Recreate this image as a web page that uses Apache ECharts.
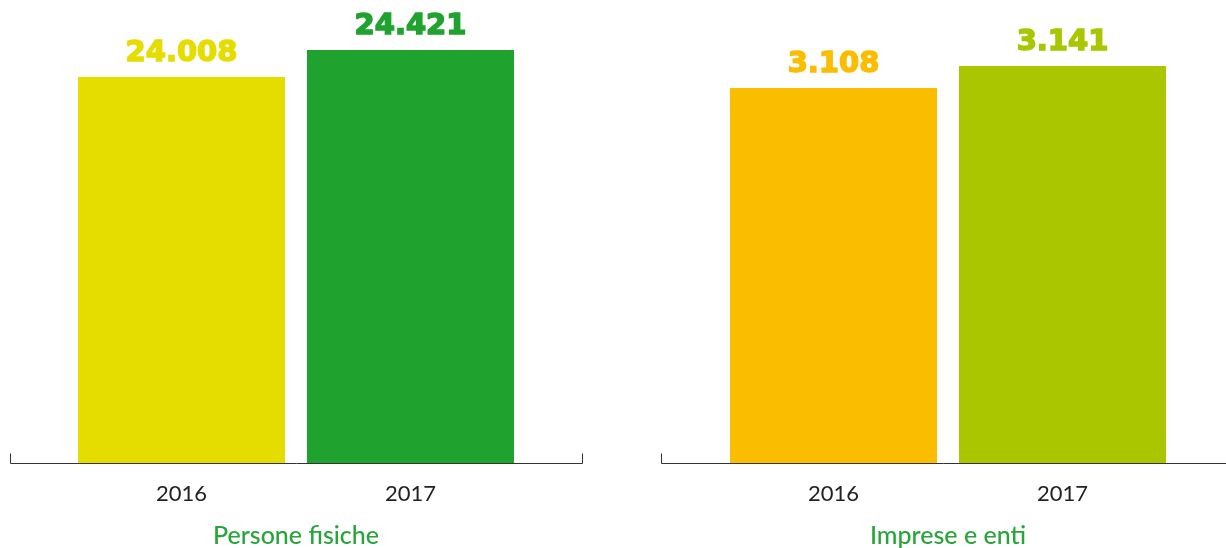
<!DOCTYPE html>
<html>
<head>
<meta charset="utf-8">
<script src="https://cdn.jsdelivr.net/npm/echarts@6/dist/echarts.min.js"></script>
<style>
  html, body { margin: 0; padding: 0; background: #fff; }
  #main { width: 1226px; height: 548px; }
</style>
</head>
<body>
<div id="main"></div>
<script>
// dati
var anni = ['2016', '2017']
var personeFisiche = [24008, 24421]
var impreseEnti = [3108, 3141]
var titoli = ['Persone fisiche', 'Imprese e enti']
var coloriPersone = ['#e6dd00', '#20a22f']
var coloriImprese = ['#fbbd00', '#a9c600']

var chart = echarts.init(document.getElementById('main'))

function formatta(v) {
  return String(v).replace(/\B(?=(\d{3})+(?!\d))/g, '.')
}

function asseX(idx, nome) {
  return {
    type: 'category',
    gridIndex: idx,
    data: anni,
    axisLine: { show: false },
    axisTick: { show: false },
    axisLabel: { color: '#222', fontSize: 22, fontFamily: 'Lato', margin: 20 },
    name: nome,
    nameLocation: 'middle',
    nameGap: 60,
    nameTextStyle: { color: '#27a539', fontSize: 25, fontFamily: 'Lato', fontWeight: 500 }
  }
}

function asseY(idx, min, max) {
  return {
    type: 'value', gridIndex: idx, min: min, max: max,
    show: false, splitLine: { show: false }
  }
}

function serie(idx, valori, colori) {
  return {
    type: 'bar',
    xAxisIndex: idx,
    yAxisIndex: idx,
    barWidth: 207,
    data: valori.map(function (v, i) {
      return {
        value: v,
        itemStyle: { color: colori[i] },
        label: { color: colori[i], textBorderColor: colori[i] }
      }
    }),
    label: {
      show: true,
      position: 'top',
      distance: 9,
      fontSize: 29,
      fontWeight: 'bold',
      fontFamily: 'DejaVu Sans',
      textBorderWidth: 1.5,
      formatter: function (p) { return formatta(p.value) }
    }
  }
}

// linee di base con i trattini alle estremità
function base(x1, x2, y, tickDx) {
  var els = [{
    type: 'line', shape: { x1: x1, y1: y, x2: x2, y2: y },
    style: { stroke: '#333', lineWidth: 1 }
  }]
  tickDx.forEach(function (x) {
    els.push({
      type: 'line', shape: { x1: x, y1: y - 10, x2: x, y2: y },
      style: { stroke: '#333', lineWidth: 1 }
    })
  })
  return els
}

chart.setOption({
  animation: false,
  grid: [
    { left: 67, width: 458, top: 20, bottom: 85, outerBoundsMode: 'none' },
    { left: 719, width: 458, top: 20, bottom: 85, outerBoundsMode: 'none' }
  ],
  xAxis: [asseX(0, titoli[0]), asseX(1, titoli[1])],
  yAxis: [asseY(0, 18104, 24880), asseY(1, 2545.5, 3210)],
  series: [
    serie(0, personeFisiche, coloriPersone),
    serie(1, impreseEnti, coloriImprese)
  ],
  graphic: base(10.5, 582.5, 463.5, [10.5, 582.5]).concat(base(661.5, 1226, 463.5, [661.5]))
})
</script>
</body>
</html>
